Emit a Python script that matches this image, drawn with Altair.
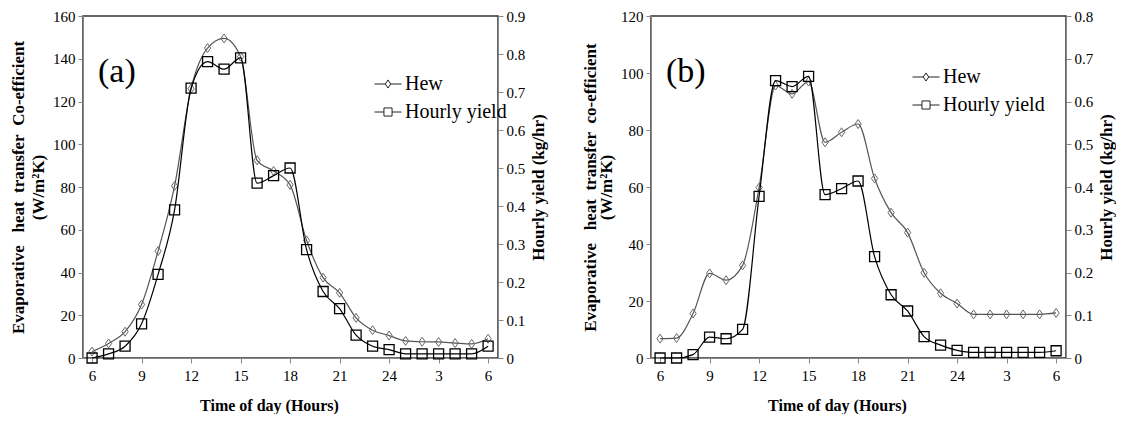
import altair as alt
import pandas as pd

# ---------------- data ----------------
hour_index = list(range(25))                      # 6 h (day 1) ... 6 h (day 2)
tick_labels = ['6', '9', '12', '15', '18', '21', '24', '3', '6']

a_hew = [3, 6.8, 12.3, 25, 50, 80.5, 126, 145, 149.5, 141, 92.5, 87.5, 81,
         55, 37.6, 30.5, 18.8, 13, 10.5, 8, 7.6, 7.5, 7, 6.6, 9]
a_yield = [0.0, 0.011, 0.031, 0.09, 0.22, 0.39, 0.71, 0.78, 0.76, 0.79, 0.46,
           0.48, 0.50, 0.285, 0.175, 0.13, 0.06, 0.031, 0.022, 0.011, 0.011,
           0.011, 0.011, 0.011, 0.031]

b_hew = [6.8, 7.0, 15.6, 29.7, 27.3, 32.5, 59.8, 95.6, 92.7, 97, 75.7, 79.2,
         82.1, 63, 51, 44, 29.9, 22.7, 19.1, 15.3, 15.3, 15.3, 15.3, 15.3, 15.8]
b_yield = [0.0, 0.0, 0.008, 0.049, 0.045, 0.067, 0.378, 0.649, 0.635, 0.659,
           0.382, 0.396, 0.414, 0.237, 0.148, 0.11, 0.05, 0.03, 0.018, 0.013,
           0.013, 0.013, 0.013, 0.013, 0.017]

series_names = ['Hew', 'Hourly yield']

SERIF = 'Liberation Serif'
AXIS_GRAY = '#888888'
NB = '\u00a0'

# custom marker shapes (unit square -1..1)
DIAMOND = 'M0,-1L0.7,0L0,1L-0.7,0Z'
LEG_HEW = 'M-1,0L-0.2,0M0.2,0L1,0M0,-0.3L0.2,0L0,0.3L-0.2,0Z'
LEG_SQ = 'M-1,0L-0.3,0M0.3,0L1,0M-0.3,-0.3L0.3,-0.3L0.3,0.3L-0.3,0.3Z'

label_js = '[' + ','.join("'%s'" % t for t in tick_labels) + ']'


def panel(hew, yld, left_max, right_max, left_title, tag, leg_x, leg_y,
          title_lh, title_pad):
    df = pd.DataFrame({'idx': hour_index, 'hew': hew, 'yield': yld})
    base = alt.Chart(df)

    x = alt.X('idx:Q',
              scale=alt.Scale(domain=[-0.55, 24.6], nice=False, zero=False),
              axis=alt.Axis(values=list(range(0, 25, 3)),
                            labelExpr=label_js + '[round(datum.value/3)]',
                            title='Time of day (Hours)',
                            titleFont=SERIF, titleFontSize=16,
                            titleFontWeight='bold', titleColor='black',
                            titlePadding=14, titleX=186,
                            labelFont=SERIF, labelFontSize=15,
                            labelColor='black', labelPadding=5,
                            tickSize=5, tickColor=AXIS_GRAY,
                            domainColor=AXIS_GRAY, grid=False))

    y_left = alt.Y('hew:Q',
                   scale=alt.Scale(domain=[0, left_max], nice=False),
                   axis=alt.Axis(orient='left',
                                 values=list(range(0, left_max + 1, 20)),
                                 title=left_title,
                                 titleFont=SERIF, titleFontSize=17,
                                 titleFontWeight='bold', titleColor='black',
                                 titleLineHeight=title_lh,
                                 titlePadding=title_pad,
                                 labelFont=SERIF, labelFontSize=15,
                                 labelColor='black', labelPadding=3,
                                 tickSize=5, tickColor=AXIS_GRAY,
                                 domainColor=AXIS_GRAY, grid=False))

    n_right = int(round(right_max * 10))
    y_right = alt.Y('yield:Q',
                    scale=alt.Scale(domain=[0, right_max], nice=False),
                    axis=alt.Axis(orient='right',
                                  values=[i / 10 for i in range(n_right + 1)],
                                  labelExpr="datum.value == 0 ? '0' : format(datum.value, '.1f')",
                                  title='Hourly yield (kg/hr)',
                                  titleAngle=270, titleBaseline='top',
                                  titleFont=SERIF, titleFontSize=17,
                                  titleFontWeight='bold', titleColor='black',
                                  titlePadding=6,
                                  labelFont=SERIF, labelFontSize=15,
                                  labelColor='black', labelPadding=3,
                                  tickSize=5, tickColor=AXIS_GRAY,
                                  domainColor=AXIS_GRAY, grid=False))

    hew_line = base.mark_line(interpolate='monotone', color='#555555',
                              strokeWidth=1.2).encode(x=x, y=y_left)
    hew_pts = base.mark_point(shape=DIAMOND, size=80, filled=False,
                              color='#666666', strokeWidth=1,
                              opacity=1).encode(x=x, y=y_left)

    legend_layer = base.mark_point(filled=False, color='#222222',
                                   strokeWidth=1, opacity=1).encode(
        shape=alt.Shape('series:N',
                        scale=alt.Scale(domain=series_names,
                                        range=[LEG_HEW, LEG_SQ]),
                        legend=alt.Legend(orient='none', legendX=leg_x,
                                          legendY=leg_y, title=None,
                                          labelFont=SERIF, labelFontSize=20,
                                          labelColor='black', labelOffset=3,
                                          symbolSize=729, symbolStrokeWidth=1,
                                          rowPadding=4, padding=0))
    ).transform_calculate(series="'Hew'").transform_filter('false')

    tag_text = alt.Chart(pd.DataFrame({'t': [tag]})).mark_text(
        font=SERIF, fontSize=34, align='left', baseline='middle',
        color='black').encode(text='t:N', x=alt.value(15), y=alt.value(56))

    yld_line = base.mark_line(interpolate='monotone', color='black',
                              strokeWidth=1.2).encode(x=x, y=y_right)
    yld_pts = base.mark_point(shape='square', size=100, filled=False,
                              color='black', strokeWidth=1.3,
                              opacity=1).encode(x=x, y=y_right)

    left = alt.layer(hew_line, hew_pts, legend_layer, tag_text)
    right = alt.layer(yld_line, yld_pts)
    return alt.layer(left, right).resolve_scale(y='independent').properties(
        width=415, height=342)


title_a = ['Evaporative' + NB * 3 + 'heat' + NB * 2 + 'transfer' + NB * 2 + 'Co-efficient',
           '(W/m²K)']
title_b = ['Evaporative' + NB * 3 + 'heat' + NB * 2 + 'transfer' + NB * 2 + 'co-efficient',
           '(W/m²K)']

panel_a = panel(a_hew, a_yield, 160, 0.9, title_a, '(a)', 291, 54, 20, 5)
panel_b = panel(b_hew, b_yield, 120, 0.8, title_b, '(b)', 261, 47, 16, 5)

chart = alt.hconcat(panel_a, panel_b, spacing=32).resolve_scale(
    shape='independent').resolve_legend(shape='independent').configure(
    padding={'left': 0, 'top': 0, 'right': 0, 'bottom': 0},
    background='white', font=SERIF
).configure_axis(labelFont=SERIF, titleFont=SERIF).configure_view(
    stroke='#333333', strokeWidth=1.5)

chart.save('out.html', embed_options={'renderer': 'svg', 'actions': False})
